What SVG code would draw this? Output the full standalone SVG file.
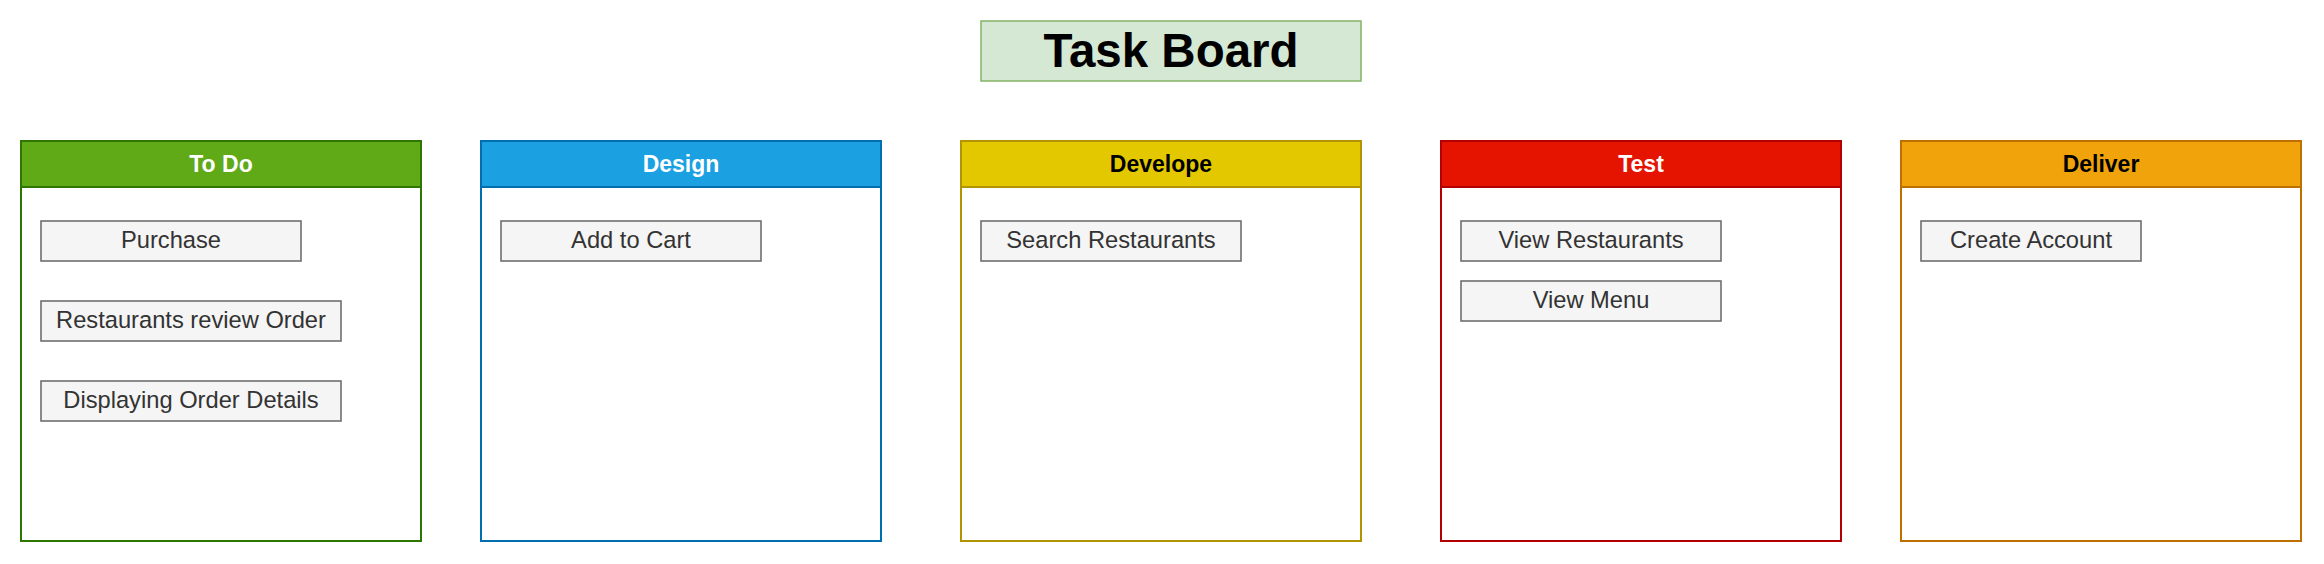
<svg xmlns="http://www.w3.org/2000/svg" width="2324" height="564" viewBox="0 0 2324 564">
<style>
text{font-family:"Liberation Sans",Arial,sans-serif;text-anchor:middle}
.col{fill:#ffffff;stroke-width:2}
.hd{stroke-width:2}
.ht{font-size:23px;font-weight:bold}
.card rect{fill:#f5f5f5;stroke:#666666;stroke-width:1.5}
.card text{font-size:23.7px;fill:#333333}
</style>
<rect width="2324" height="564" fill="#ffffff"/>
<g id="title">
<rect x="981" y="21" width="380" height="60" fill="#d5e8d4" stroke="#82b366" stroke-width="1.5"/>
<text x="1171" y="66.5" style="font-size:47.5px;font-weight:bold" fill="#000000">Task Board</text>
</g>
<g id="col-todo">
<rect class="col" x="21" y="141" width="400" height="400" stroke="#2d7600"/>
<rect class="hd" x="21" y="141" width="400" height="46" fill="#60a917" stroke="#2d7600"/>
<text class="ht" x="221" y="172" fill="#ffffff">To Do</text>
</g>
<g id="col-design">
<rect class="col" x="481" y="141" width="400" height="400" stroke="#006eaf"/>
<rect class="hd" x="481" y="141" width="400" height="46" fill="#1ba1e2" stroke="#006eaf"/>
<text class="ht" x="681" y="172" fill="#ffffff">Design</text>
</g>
<g id="col-develope">
<rect class="col" x="961" y="141" width="400" height="400" stroke="#b09500"/>
<rect class="hd" x="961" y="141" width="400" height="46" fill="#e3c800" stroke="#b09500"/>
<text class="ht" x="1161" y="172" fill="#000000">Develope</text>
</g>
<g id="col-test">
<rect class="col" x="1441" y="141" width="400" height="400" stroke="#b20000"/>
<rect class="hd" x="1441" y="141" width="400" height="46" fill="#e51400" stroke="#b20000"/>
<text class="ht" x="1641" y="172" fill="#ffffff">Test</text>
</g>
<g id="col-deliver">
<rect class="col" x="1901" y="141" width="400" height="400" stroke="#bd7000"/>
<rect class="hd" x="1901" y="141" width="400" height="46" fill="#f0a30a" stroke="#bd7000"/>
<text class="ht" x="2101" y="172" fill="#000000">Deliver</text>
</g>
<g id="card-purchase" class="card"><rect x="41" y="221" width="260" height="40"/><text x="171" y="247.5">Purchase</text></g>
<g id="card-review" class="card"><rect x="41" y="301" width="300" height="40"/><text x="191" y="327.5">Restaurants review Order</text></g>
<g id="card-details" class="card"><rect x="41" y="381" width="300" height="40"/><text x="191" y="407.5">Displaying Order Details</text></g>
<g id="card-cart" class="card"><rect x="501" y="221" width="260" height="40"/><text x="631" y="247.5">Add to Cart</text></g>
<g id="card-search" class="card"><rect x="981" y="221" width="260" height="40"/><text x="1111" y="247.5">Search Restaurants</text></g>
<g id="card-viewrest" class="card"><rect x="1461" y="221" width="260" height="40"/><text x="1591" y="247.5">View Restaurants</text></g>
<g id="card-viewmenu" class="card"><rect x="1461" y="281" width="260" height="40"/><text x="1591" y="307.5">View Menu</text></g>
<g id="card-account" class="card"><rect x="1921" y="221" width="220" height="40"/><text x="2031" y="247.5">Create Account</text></g>
<g id="connectors"/>
</svg>
